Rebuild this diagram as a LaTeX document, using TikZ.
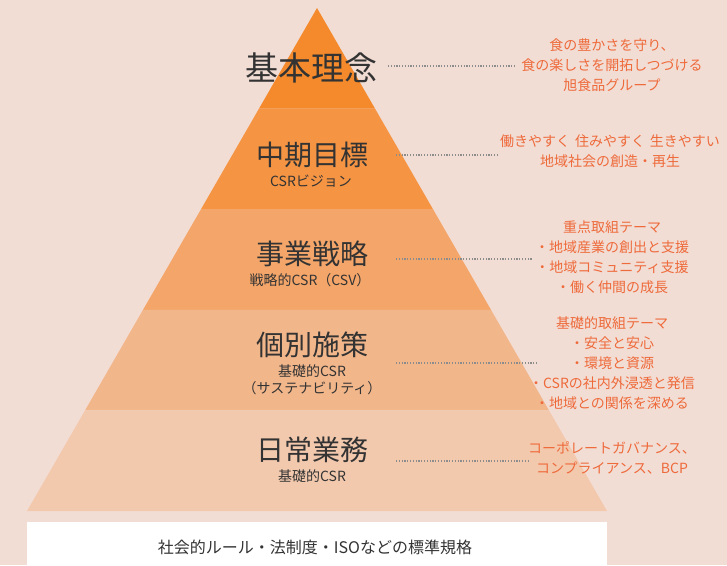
\documentclass[tikz,border=0pt]{standalone}
\usepackage{fontspec}
\setmainfont{Noto Sans CJK JP}
\definecolor{bgc}{HTML}{F2DDD5}
\definecolor{bandA}{HTML}{F48A2B}
\definecolor{bandB}{HTML}{F59443}
\definecolor{bandC}{HTML}{F4A66A}
\definecolor{bandD}{HTML}{F2B68B}
\definecolor{bandE}{HTML}{F3C9AE}
\definecolor{darktxt}{HTML}{333333}
\definecolor{redtxt}{HTML}{EE6A3A}
\definecolor{dotgray}{HTML}{8C8C8C}
\tikzset{
  biglbl/.style={inner sep=0pt, text=darktxt, font=\fontsize{28}{30}\selectfont},
  toplbl/.style={inner sep=0pt, text=darktxt, font=\fontsize{33}{35}\selectfont},
  sublbl/.style={inner sep=0pt, text=darktxt, font=\fontsize{14}{17}\selectfont},
  note/.style={inner sep=0pt, text=redtxt, align=center, font=\fontsize{14}{20}\selectfont},
  dotline/.style={draw=dotgray, line width=1.2pt, dash pattern=on 1.2pt off 1.6pt},
}
\begin{document}
\begin{tikzpicture}[x=1pt,y=-1pt]
\useasboundingbox (0,0) rectangle (727,565);
\fill[bgc] (0,0) rectangle (727,565);
% pyramid bands
\fill[bandA] (317,8) -- (375,108.6) -- (259,108.6) -- cycle;
\fill[bandB] (259,108.6) -- (375,108.6) -- (433,209.2) -- (201,209.2) -- cycle;
\fill[bandC] (201,209.2) -- (433,209.2) -- (491,309.8) -- (143,309.8) -- cycle;
\fill[bandD] (143,309.8) -- (491,309.8) -- (549,410.4) -- (85,410.4) -- cycle;
\fill[bandE] (85,410.4) -- (549,410.4) -- (607,511) -- (27,511) -- cycle;
% base box
\fill[white] (27,522) rectangle (607,565);
\node[inner sep=0pt, text=darktxt, font=\fontsize{16}{18}\selectfont] (base) at (315,547) {社会的ルール・法制度・ISOなどの標準規格};
% labels
\node[toplbl] (l1) at (311,68) {基本理念};
\node[biglbl] (l2) at (312,155) {中期目標};
\node[sublbl] (s2) at (311,181) {CSRビジョン};
\node[biglbl] (l3) at (312,254) {事業戦略};
\node[sublbl] (s3) at (310,280) {戦略的CSR（CSV）};
\node[biglbl] (l4) at (312,345) {個別施策};
\node[sublbl, align=center, font=\fontsize{14}{17}\selectfont] (s4) at (312,380) {基礎的CSR\\（サステナビリティ）};
\node[biglbl] (l5) at (312,450) {日常業務};
\node[sublbl] (s5) at (312,476) {基礎的CSR};
% notes
\node[note] (r1) at (612,65) {食の豊かさを守り、\\食の楽しさを開拓しつづける\\旭食品グループ};
\node[note] (r2) at (610,151) {働きやすく\hspace{0.35em}住みやすく\hspace{0.35em}生きやすい\\地域社会の創造・再生};
\node[note] (r3) at (612,257) {重点取組テーマ\\・地域産業の創出と支援\\・地域コミュニティ支援\\・働く仲間の成長};
\node[note] (r4) at (612,363) {基礎的取組テーマ\\・安全と安心\\・環境と資源\\・CSRの社内外浸透と発信\\・地域との関係を深める};
\node[note] (r5) at (612,458) {コーポレートガバナンス、\\コンプライアンス、BCP};
% dotted connectors
\coordinate (d1s) at (388,66);  \coordinate (d1e) at (515,66);
\coordinate (d2s) at (396,155); \coordinate (d2e) at (498,155);
\coordinate (d3s) at (396,259); \coordinate (d3e) at (533,259);
\coordinate (d4s) at (396,363); \coordinate (d4e) at (538,363);
\coordinate (d5s) at (396,461); \coordinate (d5e) at (529,461);
\draw[dotline] (d1s) -- (d1e);
\draw[dotline] (d2s) -- (d2e);
\draw[dotline] (d3s) -- (d3e);
\draw[dotline] (d4s) -- (d4e);
\draw[dotline] (d5s) -- (d5e);
\end{tikzpicture}
\end{document}
